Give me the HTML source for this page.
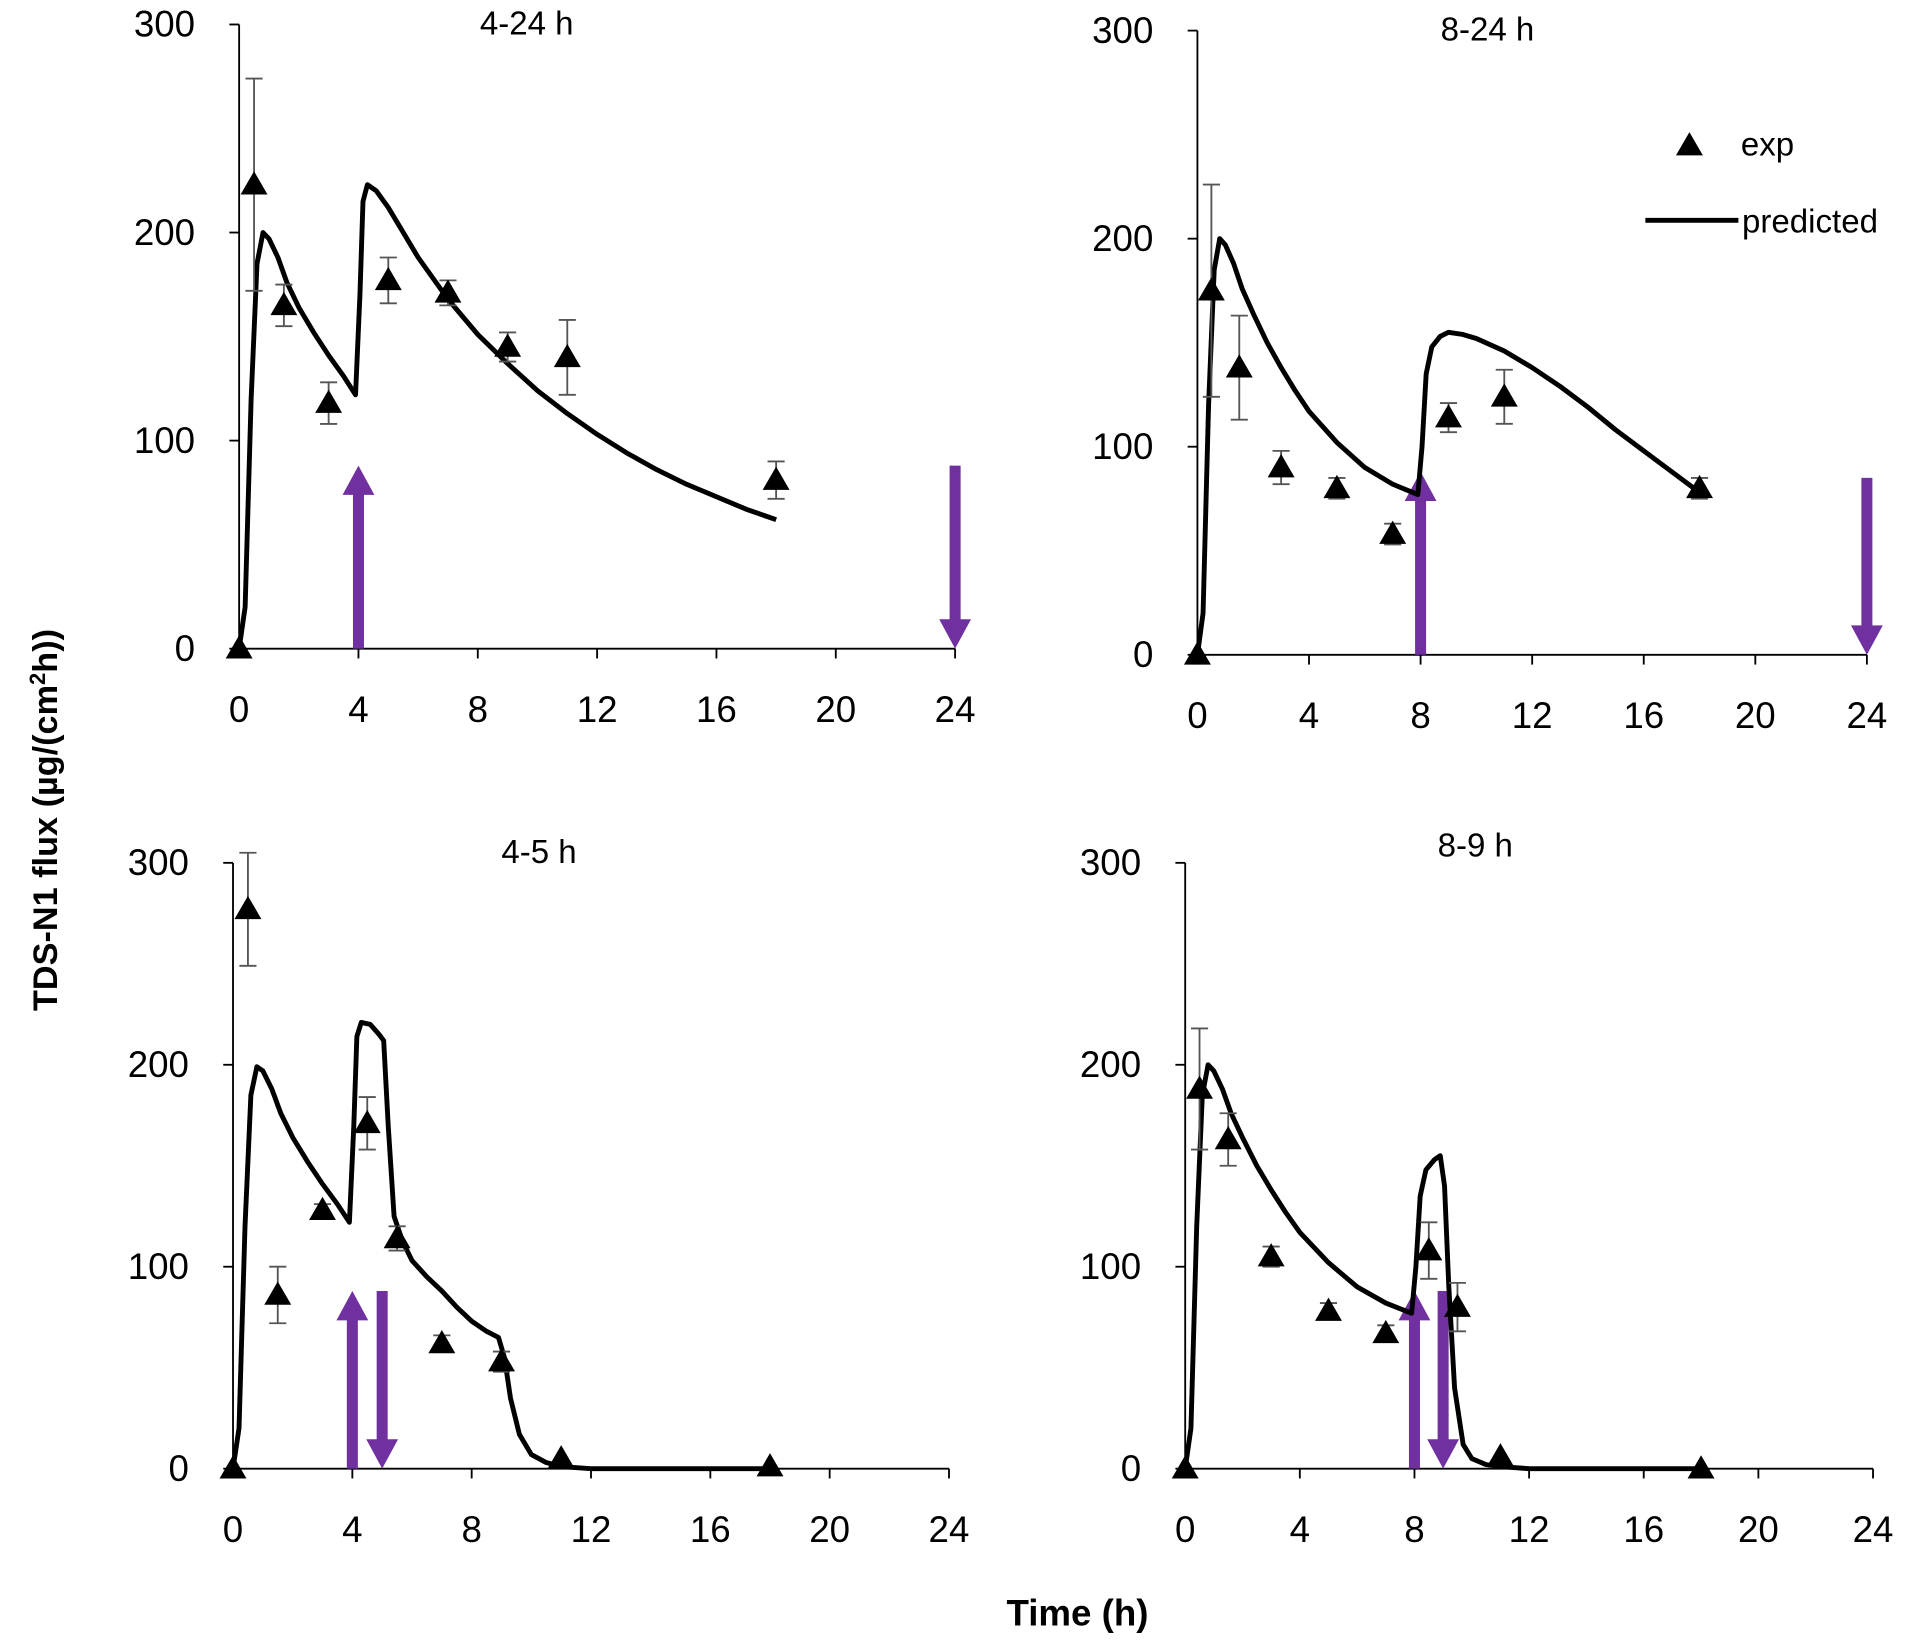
<!DOCTYPE html>
<html><head><meta charset="utf-8"><style>
html,body{margin:0;padding:0;background:#fff;width:1920px;height:1640px;overflow:hidden}
svg{display:block}
text{font-family:"Liberation Sans",sans-serif;fill:#000}
</style></head><body>
<svg id="chart" width="1920" height="1640" viewBox="0 0 1568 1340" xmlns="http://www.w3.org/2000/svg">
<text transform="translate(46,670) rotate(-90)" text-anchor="middle" font-size="28" font-weight="bold">TDS-N1 flux (µg/(cm<tspan baseline-shift="super" font-size="18">2</tspan>h))</text>
<text x="880" y="1328" text-anchor="middle" font-size="30" font-weight="bold">Time (h)</text>
<g>
<path d="M1380,108 L1391,127 L1369,127 Z" fill="#000"/>
<text x="1422" y="127" font-size="27">exp</text>
<line x1="1344" y1="180" x2="1420" y2="180" stroke="#000" stroke-width="4"/>
<text x="1423" y="190" font-size="27">predicted</text>
</g>
</svg>
<script>
const xTicks=[0,4,8,12,16,20,24];
const yTicks=[0,100,200,300];
const panelTitles=["4-24 h","8-24 h","4-5 h","8-9 h"];
const expT1=[0,0.5,1.5,3,5,7,9,11,18];
const expV1=[0,223,165,118,177,171,145,140,81];
const expE1=[0,51,10,10,11,6,7,18,9];
const predT1=[0,0.2,0.4,0.6,0.8,1,1.3,1.6,2,2.5,3,3.5,3.9,4.05,4.15,4.3,4.6,5,5.5,6,7,8,9,10,11,12,13,14,15,16,17,18];
const predV1=[0,20,120,185,200,197,188,176,164,152,141,131,122,170,215,223,220,212,200,188,168,151,137,124,113,103,94,86,79,73,67,62];
const arrowUp1=[4,88],arrowDown1=[24,88];
const expT2=[0,0.5,1.5,3,5,7,9,11,18];
const expV2=[0,175,138,90,80,58,114,124,80];
const expE2=[0,51,25,8,5,5,7,13,5];
const predT2=[0,0.2,0.4,0.6,0.8,1,1.3,1.6,2,2.5,3,3.5,4,5,6,7,7.9,8.05,8.2,8.4,8.7,9,9.5,10,11,12,13,14,15,16,17,18];
const predV2=[0,20,120,185,200,197,188,176,164,150,138,127,117,102,90,82,77,100,135,148,153,155,154,152,146,138,129,119,108,98,88,78];
const arrowUp2=[8,88],arrowDown2=[24,85];
const expT3=[0,0.5,1.5,3,4.5,5.5,7,9,11,18];
const expV3=[0,277,86,128,171,114,62,53,5,1];
const expE3=[0,28,14,3,13,6,4,5,0,0];
const predT3=[0,0.2,0.4,0.6,0.8,1,1.3,1.6,2,2.5,3,3.5,3.9,4.05,4.15,4.3,4.6,4.9,5.05,5.2,5.4,5.7,6,6.5,7,7.5,8,8.5,8.9,9.1,9.3,9.6,10,10.5,11,12,18];
const predV3=[0,20,120,185,199,197,188,176,164,152,141,131,122,170,214,221,220,215,212,170,125,112,103,95,88,80,73,68,65,55,35,17,7,3,1,0,0];
const arrowUp3=[4,88],arrowDown3=[5,88];
const expT4=[0,0.5,1.5,3,5,7,8.5,9.5,11,18];
const expV4=[0,188,163,105,78,67,108,80,6,0];
const expE4=[0,30,13,5,4,4,14,12,0,0];
const predT4=[0,0.2,0.4,0.6,0.8,1,1.3,1.6,2,2.5,3,3.5,4,5,6,7,7.9,8.05,8.2,8.4,8.7,8.9,9.05,9.2,9.4,9.7,10,10.5,11,12,18];
const predV4=[0,20,120,185,200,197,188,176,164,150,138,127,117,102,90,82,77,100,135,148,153,155,140,90,40,12,5,2,1,0,0];
const arrowUp4=[8,88],arrowDown4=[9,88];

const svg=document.getElementById('chart');
const NS='http://www.w3.org/2000/svg';
function mk(tag,attrs,parent){const e=document.createElementNS(NS,tag);for(const k in attrs)e.setAttribute(k,attrs[k]);parent.appendChild(e);return e;}
const panels=[
 {x0:195,x1:780,y0:530,y1:20,tx:430,ty:28,et:expT1,ev:expV1,ee:expE1,pt:predT1,pv:predV1,au:arrowUp1,ad:arrowDown1},
 {x0:978,x1:1525,y0:535,y1:25,tx:1215,ty:33,et:expT2,ev:expV2,ee:expE2,pt:predT2,pv:predV2,au:arrowUp2,ad:arrowDown2},
 {x0:190,x1:775,y0:1200,y1:705,tx:440,ty:705,et:expT3,ev:expV3,ee:expE3,pt:predT3,pv:predV3,au:arrowUp3,ad:arrowDown3},
 {x0:968,x1:1530,y0:1200,y1:705,tx:1205,ty:700,et:expT4,ev:expV4,ee:expE4,pt:predT4,pv:predV4,au:arrowUp4,ad:arrowDown4}
];
panels.forEach((p,i)=>{
 const g=mk('g',{},svg);
 
 
 const X=t=>p.x0+(p.x1-p.x0)*t/24, Y=v=>p.y0+(p.y1-p.y0)*v/300;
 const ax=mk('line',{x1:p.x0,y1:p.y0,x2:p.x1,y2:p.y0,stroke:'#000','stroke-width':1.5},g);
 
 
 const ay=mk('line',{x1:p.x0,y1:p.y0,x2:p.x0,y2:p.y1,stroke:'#000','stroke-width':1.5},g);
 
 
 xTicks.forEach(t=>{
  mk('line',{x1:X(t),y1:p.y0,x2:X(t),y2:p.y0+8,stroke:'#000','stroke-width':1.5},g);
  const tl=mk('text',{x:X(t),y:p.y0+60,'text-anchor':'middle','font-size':30},g);tl.textContent=t;
  
  
 });
 yTicks.forEach(v=>{
  mk('line',{x1:p.x0-8,y1:Y(v),x2:p.x0,y2:Y(v),stroke:'#000','stroke-width':1.5},g);
  const tl=mk('text',{x:p.x0-36,y:Y(v)+10,'text-anchor':'end','font-size':30},g);tl.textContent=v;
  
  
 });
 const tt=mk('text',{x:p.tx,y:p.ty,'text-anchor':'middle','font-size':27},g);tt.textContent=panelTitles[i];
 
 
 const col='#7030A0';
 const up=p.au, dn=p.ad;
 const a1=mk('path',{d:`M${X(up[0])},${Y(0)} L${X(up[0])},${Y(up[1])+20}`,stroke:col,'stroke-width':9,fill:'none'},g);
 
 
 mk('path',{d:`M${X(up[0])},${Y(up[1])} l-13,24 l26,0 Z`,fill:col},g);
 const a2=mk('path',{d:`M${X(dn[0])},${Y(dn[1])} L${X(dn[0])},${Y(0)-20}`,stroke:col,'stroke-width':9,fill:'none'},g);
 
 
 mk('path',{d:`M${X(dn[0])},${Y(0)} l-13,-24 l26,0 Z`,fill:col},g);
 const d=p.pt.map((t,k)=>(k?'L':'M')+X(t).toFixed(1)+','+Y(p.pv[k]).toFixed(1)).join(' ');
 const pl=mk('path',{d:d,stroke:'#000','stroke-width':4,fill:'none','stroke-linejoin':'round'},g);
 
 
 p.et.forEach((t,k)=>{
  const cx=X(t),cy=Y(p.ev[k]);
  if(p.ee[k]>0){
   const hi=Y(p.ev[k]+p.ee[k]),lo=Y(p.ev[k]-p.ee[k]);
   const eb=mk('path',{d:`M${cx},${hi} L${cx},${lo} M${cx-7},${hi} L${cx+7},${hi} M${cx-7},${lo} L${cx+7},${lo}`,stroke:'#555','stroke-width':1.5,fill:'none'},g);
   
   
  }
  const m=mk('path',{d:`M${cx},${cy-11} L${cx+11},${cy+8} L${cx-11},${cy+8} Z`,fill:'#000'},g);
  
  
 });
});
</script>
</body></html>
